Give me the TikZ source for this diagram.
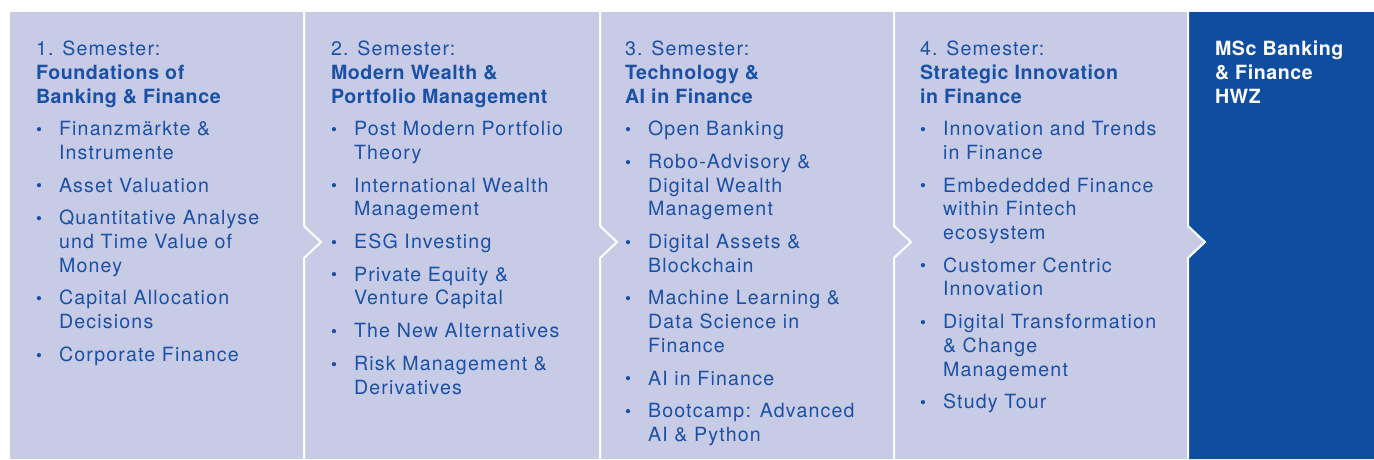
\documentclass[tikz,border=0pt]{standalone}
\usepackage{fontspec}
\setmainfont{TeX Gyre Heros}[LetterSpace=6.0, BoldFeatures={LetterSpace=3.0}]
\definecolor{lav}{HTML}{C8CBE6}
\definecolor{navy}{HTML}{0E4DA0}
\definecolor{txt}{HTML}{1A50A5}
\newcommand\bul{\makebox[23pt][l]{\hspace{0pt}\raisebox{0.3pt}{\fontsize{17}{17}\selectfont\textbullet}}}
\newcommand\ind{\hspace*{23pt}}
\tikzset{
  col/.style={inner sep=0pt, outer sep=0pt, anchor=north west, align=left, text=txt,
    font=\fontsize{19.6}{23.7}\selectfont},
  sep/.style={draw=white, line width=2pt, line join=miter},
}
\begin{document}
\begin{tikzpicture}[x=1pt,y=-1pt]
\useasboundingbox (0,0) rectangle (1374,459);
\fill[lav] (10,12) rectangle (1374,459);
\fill[navy] (1188,12) -- (1188,226) -- (1205,242) -- (1188,258) -- (1188,459) -- (1374,459) -- (1374,12) -- cycle;
\foreach \x in {304,600,894,1188}
  \draw[sep] (\x,12) -- (\x,226) -- (\x+17,242) -- (\x,258) -- (\x,459);

\node[col] (s1) at (36,41) {1. Semester:\\
\textbf{Foundations of}\\
\textbf{Banking \& Finance}\\[9pt]
\bul Finanzmärkte \&\\ \ind Instrumente\\[9pt]
\bul Asset Valuation\\[9pt]
\bul Quantitative Analyse\\ \ind und Time Value of\\ \ind Money\\[9pt]
\bul Capital Allocation\\ \ind Decisions\\[9pt]
\bul Corporate Finance};

\node[col] (s2) at (331,41) {2. Semester:\\
\textbf{Modern Wealth \&}\\
\textbf{Portfolio Management}\\[9pt]
\bul Post Modern Portfolio\\ \ind Theory\\[9pt]
\bul International Wealth\\ \ind Management\\[9pt]
\bul ESG Investing\\[9pt]
\bul Private Equity \&\\ \ind Venture Capital\\[9pt]
\bul The New Alternatives\\[9pt]
\bul Risk Management \&\\ \ind Derivatives};

\node[col] (s3) at (625,41) {3. Semester:\\
\textbf{Technology \&}\\
\textbf{AI in Finance}\\[9pt]
\bul Open Banking\\[9pt]
\bul Robo-Advisory \&\\ \ind Digital Wealth\\ \ind Management\\[9pt]
\bul Digital Assets \&\\ \ind Blockchain\\[9pt]
\bul Machine Learning \&\\ \ind Data Science in\\ \ind Finance\\[9pt]
\bul AI in Finance\\[9pt]
\bul Bootcamp: Advanced\\ \ind AI \& Python};

\node[col] (s4) at (920,41) {4. Semester:\\
\textbf{Strategic Innovation}\\
\textbf{in Finance}\\[9pt]
\bul Innovation and Trends\\ \ind in Finance\\[9pt]
\bul Embededded Finance\\ \ind within Fintech\\ \ind ecosystem\\[9pt]
\bul Customer Centric\\ \ind Innovation\\[9pt]
\bul Digital Transformation\\ \ind \& Change\\ \ind Management\\[9pt]
\bul Study Tour};

\node[col, text=white, font=\fontsize{19.6}{23.7}\selectfont\bfseries] (goal) at (1215,41) {MSc Banking\\ \& Finance\\ HWZ};
\end{tikzpicture}
\end{document}
